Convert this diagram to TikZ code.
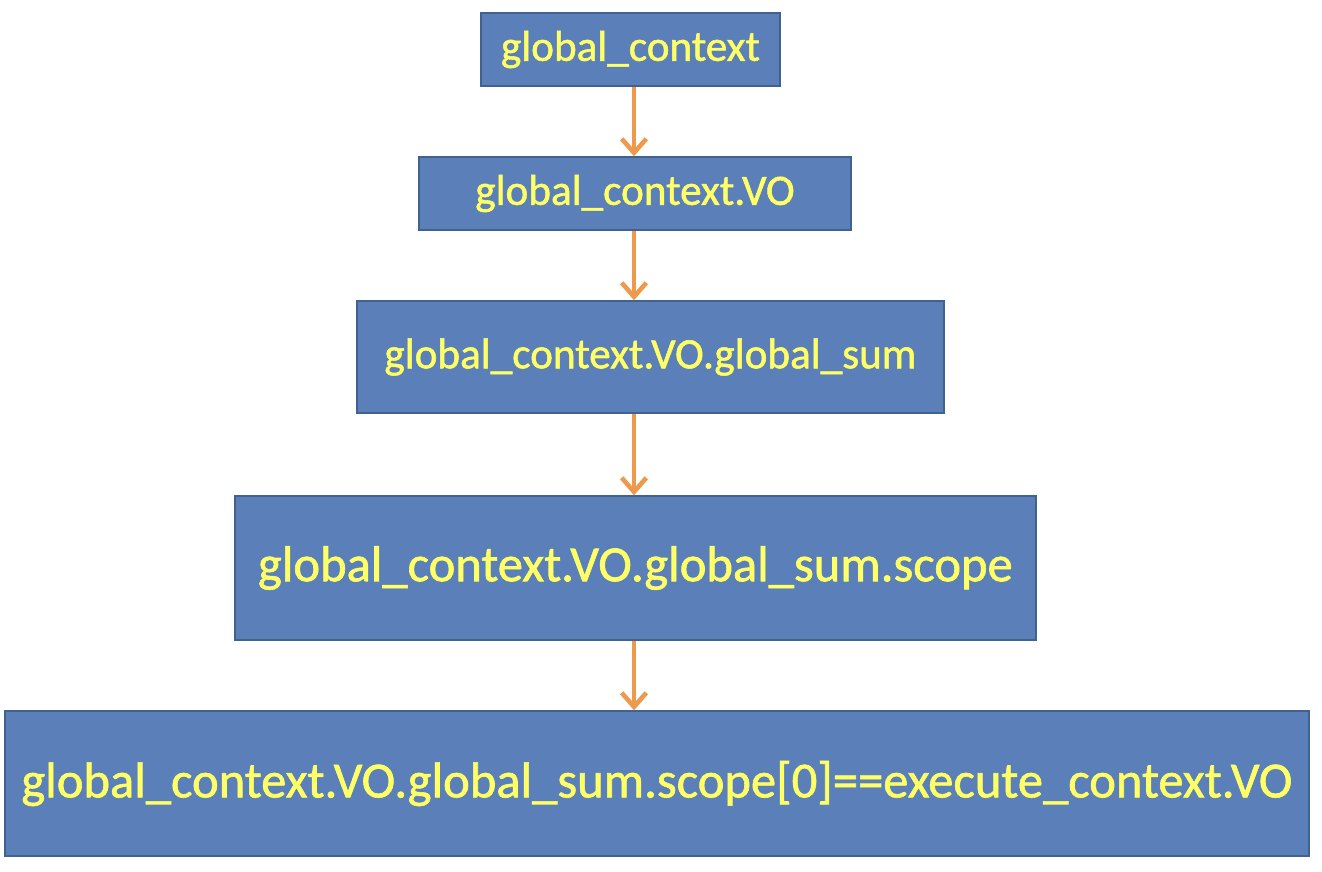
\documentclass[tikz,border=0pt]{standalone}
\usepackage{fontspec}
\setmainfont{Carlito}
\newfontfamily\glowfont{Carlito}[FakeBold=1.2]
\usetikzlibrary{
  arrows.meta
}
\definecolor{boxblue}{HTML}{5B80B9}
\definecolor{boxedge}{HTML}{41618F}
\definecolor{glowyellow}{HTML}{FFFF66}
\definecolor{linkorange}{HTML}{EE9A4D}

\begin{document}
\begin{tikzpicture}[x=0.02cm, y=-0.02cm,
  box/.style={draw=boxedge, fill=boxblue, line width=0.8pt, inner sep=0pt, text=glowyellow},
  small/.style={font=\glowfont\fontsize{24.6}{28}\selectfont},
  large/.style={font=\glowfont\fontsize{28.8}{32}\selectfont},
  link/.style={linkorange, line width=2.8pt,
    -{Straight Barb[length=8pt, width=14pt, line width=2.6pt]}}]
  \def\Xaxis{634};
  \useasboundingbox (0,0) rectangle (1322,872);
  \coordinate (axis) at (\Xaxis, 0);

        \node[box, small, minimum width=5.98cm, minimum height=1.46cm] (ctx) at (630.5, 49.5) {global\_context};
        \node[box, small, minimum width=8.64cm, minimum height=1.46cm] (vo) at (635, 193.5) {global\_context.VO};
        \node[box, small, minimum width=11.74cm, minimum height=2.24cm] (sum) at (650.5, 357) {global\_context.VO.global\_sum};
        \node[box, large, minimum width=16.02cm, minimum height=2.88cm] (scope) at (635.5, 568) {global\_context.VO.global\_sum.scope};
        \node[box, large, minimum width=26.08cm, minimum height=2.90cm] (exec) at (657, 783.5) {global\_context.VO.global\_sum.scope[0]==execute\_context.VO};

	\draw[link] (ctx.south -| axis) -- (vo.north -| axis);
	\draw[link] (vo.south -| axis) -- (sum.north -| axis);
	\draw[link] (sum.south -| axis) -- (scope.north -| axis);
	\draw[link] (scope.south -| axis) -- (exec.north -| axis);

\end{tikzpicture}
\end{document}
